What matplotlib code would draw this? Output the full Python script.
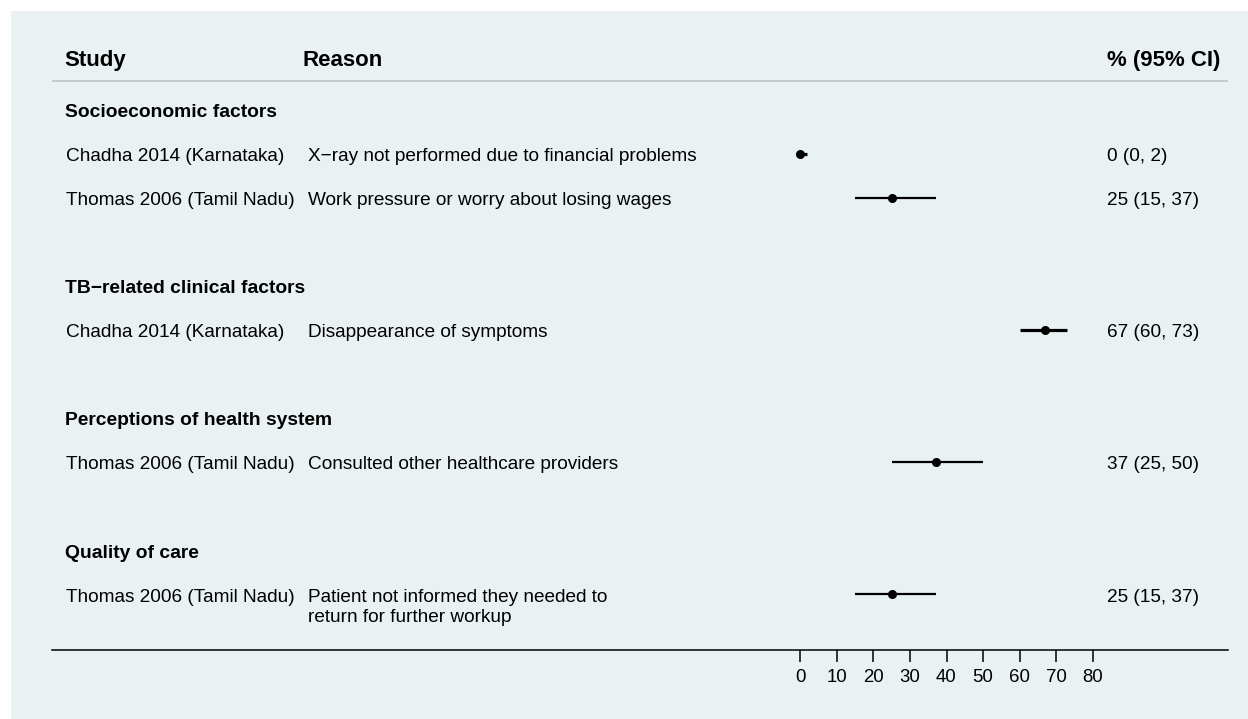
import matplotlib
matplotlib.use("Agg")
import matplotlib.pyplot as plt
from matplotlib.patches import Rectangle
from matplotlib.transforms import blended_transform_factory

plt.rcParams['font.family'] = ['Liberation Sans', 'DejaVu Sans']

# data
groups = ["Socioeconomic factors", "TB\u2212related clinical factors",
          "Perceptions of health system", "Quality of care"]
group_of = [0, 0, 1, 2, 3]
studies = ["Chadha 2014 (Karnataka)", "Thomas 2006 (Tamil Nadu)",
           "Chadha 2014 (Karnataka)", "Thomas 2006 (Tamil Nadu)",
           "Thomas 2006 (Tamil Nadu)"]
reasons = ["X\u2212ray not performed due to financial problems",
           "Work pressure or worry about losing wages",
           "Disappearance of symptoms",
           "Consulted other healthcare providers",
           "Patient not informed they needed to\nreturn for further workup"]
est = [0, 25, 67, 37, 25]
lo = [0, 15, 60, 25, 15]
hi = [2, 37, 73, 50, 37]
xticks = [0, 10, 20, 30, 40, 50, 60, 70, 80]

W, H = 1248, 719
BG = "#e9f1f3"
ROW = 44  # px per row

fig = plt.figure(figsize=(W / 100, H / 100), dpi=100)
fig.patch.set_facecolor("white")
fig.patches.append(Rectangle((11 / W, 0), 1, (H - 11) / H, transform=fig.transFigure,
                             facecolor=BG, edgecolor="none", zorder=-10))

# axes: left/right = 52..1228 px, top 11 px, bottom spine at 650 px
ax = fig.add_axes([52 / W, (H - 650) / H, (1228 - 52) / W, (650 - 11) / H])
ax.set_facecolor("none")
px_per_unit = (1093 - 800) / 80
ax.set_xlim(-(800 - 52) / px_per_unit, (1228 - 800) / px_per_unit)
ax.set_ylim((650 - 110) / ROW, (11 - 110) / ROW)

for s in ["top", "left", "right"]:
    ax.spines[s].set_visible(False)
ax.spines["bottom"].set_linewidth(1.1)
ax.spines["bottom"].set_color("black")
ax.set_yticks([])
ax.set_xticks(xticks)
ax.set_xticklabels([str(t) for t in xticks])
ax.tick_params(axis="x", direction="out", length=8.5, width=1.1, pad=5,
               labelsize=13.4, colors="black")

tr = blended_transform_factory(fig.transFigure, ax.transData)
col_study, col_reason, col_val = 65 / W, 308 / W, 1107 / W
dy = 3 / ROW  # text sits slightly lower than the marks

# header
hy = (58 - 110) / ROW + dy
ax.text(64 / W, hy, "Study", transform=tr, fontsize=16, fontweight="bold", va="center")
ax.text(303 / W, hy, "Reason", transform=tr, fontsize=16, fontweight="bold", va="center")
ax.text(col_val, hy, "% (95% CI)", transform=tr, fontsize=16, fontweight="bold", va="center")
ax.axhline((81 - 110) / ROW, color="#c4c6c6", lw=1.3)

# rows
row = 0
prev = None
for i in range(len(studies)):
    g = group_of[i]
    if g != prev:
        if prev is not None:
            row += 1
        ax.text(col_study, row + dy, groups[g], transform=tr, fontsize=13.9,
                fontweight="bold", va="center")
        row += 1
        prev = g
    ax.text(col_study + 1 / W, row + dy, studies[i], transform=tr, fontsize=13.7, va="center")
    for k, ln in enumerate(reasons[i].split("\n")):
        ax.text(col_reason, row + dy + k * 20 / ROW, ln, transform=tr, fontsize=13.7, va="center")
    ax.text(col_val, row + dy, f"{est[i]} ({lo[i]}, {hi[i]})", transform=tr,
            fontsize=13.7, va="center")
    lw = 1.6 if hi[i] - lo[i] > 20 else 2.3
    ax.hlines(row, lo[i], hi[i], color="black", lw=lw)
    ax.plot(est[i], row, "o", color="black", ms=5.5)
    row += 1

fig.savefig("out.png", dpi=100, facecolor=fig.get_facecolor())
